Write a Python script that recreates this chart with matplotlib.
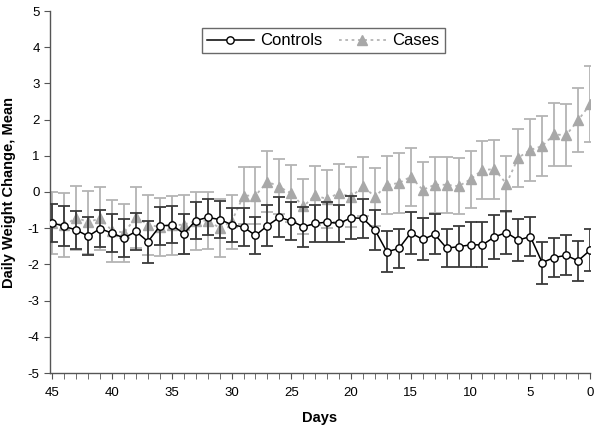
import numpy as np
import matplotlib
matplotlib.use('Agg')
import matplotlib.pyplot as plt

plt.rcParams['font.family'] = ['Liberation Sans', 'DejaVu Sans']
plt.rcParams['axes.unicode_minus'] = False

# Days before event (45 -> 0)
days = np.arange(45, -1, -1)

controls_mean = [-0.85, -0.95, -1.05, -1.22, -1.01, -1.14, -1.27, -1.09, -1.37, -0.94,
                 -0.91, -1.15, -0.79, -0.70, -0.76, -0.90, -0.97, -1.20, -0.93, -0.70,
                 -0.80, -0.96, -0.87, -0.83, -0.87, -0.71, -0.73, -1.05, -1.65, -1.56,
                 -1.13, -1.31, -1.17, -1.55, -1.51, -1.46, -1.46, -1.24, -1.12, -1.33,
                 -1.23, -1.95, -1.81, -1.75, -1.90, -1.61]
controls_err = [0.52, 0.55, 0.52, 0.52, 0.51, 0.52, 0.53, 0.50, 0.58, 0.53,
                0.51, 0.55, 0.50, 0.50, 0.50, 0.47, 0.52, 0.50, 0.57, 0.55,
                0.52, 0.55, 0.51, 0.55, 0.51, 0.59, 0.55, 0.55, 0.57, 0.55,
                0.58, 0.58, 0.55, 0.53, 0.56, 0.62, 0.62, 0.61, 0.60, 0.58,
                0.55, 0.58, 0.55, 0.55, 0.55, 0.58]

cases_mean = [-0.85, -0.92, -0.71, -0.83, -0.73, -1.07, -1.12, -0.70, -0.90, -0.97,
              -0.92, -0.90, -0.80, -0.79, -0.99, -0.82, -0.10, -0.10, 0.29, 0.14,
              -0.04, -0.40, -0.09, -0.20, -0.02, -0.14, 0.16, -0.13, 0.19, 0.25,
              0.42, 0.06, 0.20, 0.20, 0.16, 0.35, 0.61, 0.63, 0.23, 0.95,
              1.16, 1.27, 1.59, 1.57, 1.98, 2.42]
cases_err = [0.85, 0.88, 0.88, 0.87, 0.86, 0.85, 0.80, 0.84, 0.83, 0.80,
             0.82, 0.82, 0.79, 0.78, 0.80, 0.75, 0.78, 0.78, 0.84, 0.76,
             0.78, 0.77, 0.81, 0.80, 0.80, 0.82, 0.82, 0.80, 0.80, 0.82,
             0.80, 0.78, 0.78, 0.77, 0.78, 0.78, 0.80, 0.82, 0.77, 0.80,
             0.86, 0.83, 0.88, 0.85, 0.88, 1.05]

fig = plt.figure(figsize=(6, 4.29), dpi=100)
ax = fig.add_axes([50 / 600, 1 - 373 / 429, 540 / 600, 362 / 429])

# Cases (behind)
ax.errorbar(days, cases_mean, yerr=cases_err, fmt='none', ecolor='#b4b4b4',
            elinewidth=1.3, capsize=4.3, capthick=1.3, zorder=1)
cases_line, = ax.plot(days, cases_mean, color='#b4b4b4', linestyle=(0, (1.5, 2)), linewidth=1.3,
                      marker='^', markersize=6.5, markerfacecolor='#a8a8a8', markeredgecolor='#a8a8a8',
                      label='Cases', zorder=2)

# Controls
ax.errorbar(days, controls_mean, yerr=controls_err, fmt='none', ecolor='#3a3a3a',
            elinewidth=1.3, capsize=4.3, capthick=1.3, zorder=3)
ctrl_line, = ax.plot(days, controls_mean, color='black', linewidth=1.1, marker='o', markersize=5.3,
                     markerfacecolor='white', markeredgecolor='black', markeredgewidth=1.0,
                     label='Controls', zorder=4)

ax.set_xlim(45.2, 0)
ax.set_ylim(-5, 5)
ax.set_yticks(np.arange(-5, 6, 1))
ax.set_xticks(np.arange(45, -1, -5))
ax.set_xticks(days, minor=True)

for side in ['top', 'right']:
    ax.spines[side].set_visible(False)
for side in ['left', 'bottom']:
    ax.spines[side].set_color('#555555')
    ax.spines[side].set_linewidth(1.0)

ax.tick_params(axis='both', which='both', direction='out', color='#555555', labelsize=9.5)
ax.tick_params(axis='both', which='major', length=4)
ax.tick_params(axis='x', which='minor', length=4)
ax.tick_params(axis='x', pad=6)

ax.set_xlabel('Days', fontsize=10.5, fontweight='bold', labelpad=9)
ax.set_ylabel('Daily Weight Change, Mean', fontsize=10.5, fontweight='bold', labelpad=8)

leg = ax.legend(handles=[ctrl_line, cases_line], loc='upper center',
                bbox_to_anchor=(0.506, 0.975), ncol=2,
                fontsize=12, frameon=True, fancybox=False, edgecolor='#444444',
                handlelength=2.8, columnspacing=1.0, borderpad=0.3, handletextpad=0.4)
leg.get_frame().set_linewidth(1.0)

plt.savefig('out.png', dpi=100)
